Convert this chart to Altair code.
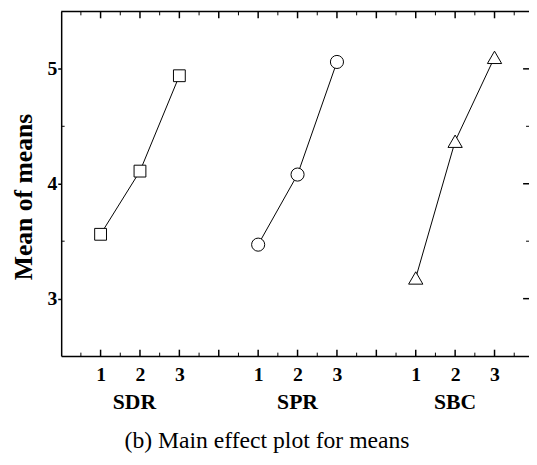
import altair as alt
import pandas as pd

# ---- data ----
factors = ["SDR", "SPR", "SBC"]
levels = [1, 2, 3]
sdr_means = [3.56, 4.11, 4.94]
spr_means = [3.47, 4.08, 5.06]
sbc_means = [3.18, 4.37, 5.10]
sdr_pos = [1, 2, 3]
spr_pos = [5, 6, 7]
sbc_pos = [9, 10, 11]
group_pos = [1.86, 6, 10]
label_positions = [1, 2, 3, 5, 6, 7, 9, 10, 11]
y_major = [3, 4, 5]
y_minor = [3.5, 4.5]
x_major = [1, 2, 3, 4, 5, 6, 7, 8, 9, 10, 11]
x_minor = [0.5, 1.5, 2.5, 3.5, 4.5, 5.5, 6.5, 7.5, 8.5, 9.5, 10.5, 11.5]
caption = ["(b) Main effect plot for means"]

rows = []
for f, ps, ms in zip(factors, [sdr_pos, spr_pos, sbc_pos], [sdr_means, spr_means, sbc_means]):
    for lv, p, m in zip(levels, ps, ms):
        rows.append({"factor": f, "level": lv, "pos": p, "mean": m})
df = pd.DataFrame(rows)

W, H = 475, 350
FONT = "Liberation Serif"
xs = alt.Scale(domain=[0, 11.875], nice=False, zero=False)
ys = alt.Scale(domain=[2.5, 5.5], nice=False, zero=False)

x_axis = alt.Axis(
    values=label_positions, labelExpr="((datum.value - 1) % 4) + 1",
    ticks=False, grid=False, domainColor="black", domainWidth=1.5,
    labelFont=FONT, labelFontSize=20, labelFontWeight="bold", labelColor="black",
    labelPadding=9, labelOverlap=False, title=None)
y_axis = alt.Axis(
    values=y_major, tickSize=3.5, tickColor="black", tickWidth=1.5, grid=False,
    domainColor="black", domainWidth=1.5,
    labelFont=FONT, labelFontSize=20, labelFontWeight="bold", labelColor="black",
    labelPadding=1, title="Mean of means", titleFont=FONT, titleFontSize=26,
    titleFontWeight="bold", titleColor="black", titleAngle=270,
    titleX=-30.5, titleY=188, titleAlign="center", titleBaseline="alphabetic")

lines = alt.Chart(df).mark_line(color="black", strokeWidth=1).encode(
    x=alt.X("pos:Q", scale=xs, axis=x_axis),
    y=alt.Y("mean:Q", scale=ys, axis=y_axis),
    detail="factor:N",
)

points = alt.Chart(df).mark_point(filled=True, fill="white", stroke="black",
                                  strokeWidth=1, opacity=1).encode(
    x=alt.X("pos:Q", scale=xs, axis=x_axis),
    y=alt.Y("mean:Q", scale=ys, axis=y_axis),
    shape=alt.Shape("factor:N", scale=alt.Scale(domain=factors,
                    range=["square", "circle", "triangle-up"]), legend=None),
    size=alt.Size("factor:N", scale=alt.Scale(domain=factors, range=[144, 210, 272]),
                  legend=None),
)

def ydf(v):
    return pd.DataFrame({"v": v})

left_minor = alt.Chart(ydf(y_minor)).mark_rule(color="black", strokeWidth=1).encode(
    y=alt.Y("v:Q", scale=ys, axis=y_axis), x=alt.value(0), x2=alt.value(3.5))
right_major = alt.Chart(ydf(y_major)).mark_rule(color="black", strokeWidth=1.5).encode(
    y=alt.Y("v:Q", scale=ys, axis=y_axis), x=alt.value(W), x2=alt.value(W - 6))
right_minor = alt.Chart(ydf(y_minor)).mark_rule(color="black", strokeWidth=1).encode(
    y=alt.Y("v:Q", scale=ys, axis=y_axis), x=alt.value(W), x2=alt.value(W - 3))
bottom_major = alt.Chart(ydf(x_major)).mark_rule(color="black", strokeWidth=1.5).encode(
    x=alt.X("v:Q", scale=xs, axis=x_axis), y=alt.value(H), y2=alt.value(H - 6.5))
bottom_minor = alt.Chart(ydf(x_minor)).mark_rule(color="black", strokeWidth=1).encode(
    x=alt.X("v:Q", scale=xs, axis=x_axis), y=alt.value(H), y2=alt.value(H - 3.5))
top_major = alt.Chart(ydf(x_major)).mark_rule(color="black", strokeWidth=1.5).encode(
    x=alt.X("v:Q", scale=xs, axis=x_axis), y=alt.value(0), y2=alt.value(7))
top_minor = alt.Chart(ydf(x_minor)).mark_rule(color="black", strokeWidth=1).encode(
    x=alt.X("v:Q", scale=xs, axis=x_axis), y=alt.value(0), y2=alt.value(4))
top_line = alt.Chart(ydf([0])).mark_rule(color="black", strokeWidth=1.5).encode(
    y=alt.value(0), x=alt.value(0), x2=alt.value(W))

groups = alt.Chart(pd.DataFrame({"factor": factors, "gpos": group_pos})).mark_text(
    font=FONT, fontSize=22, fontWeight="bold", color="black", align="center",
    baseline="alphabetic").encode(
    x=alt.X("gpos:Q", scale=xs, axis=x_axis), y=alt.value(H + 54), text="factor:N")

cap = alt.Chart(pd.DataFrame({"t": caption})).mark_text(
    font=FONT, fontSize=24, color="black", align="center", baseline="alphabetic").encode(
    x=alt.value(209), y=alt.value(443), text="t:N")

chart = alt.layer(
    lines, left_minor, right_major, right_minor, bottom_major, bottom_minor,
    top_major, top_minor, top_line, points, groups, cap
).properties(
    width=W, height=H,
    autosize=alt.AutoSizeParams(type="none"),
    padding={"left": 54, "top": 0, "right": 0, "bottom": 99},
).configure_view(stroke=None)

chart.save("out.html", embed_options={"renderer": "svg", "actions": False})
